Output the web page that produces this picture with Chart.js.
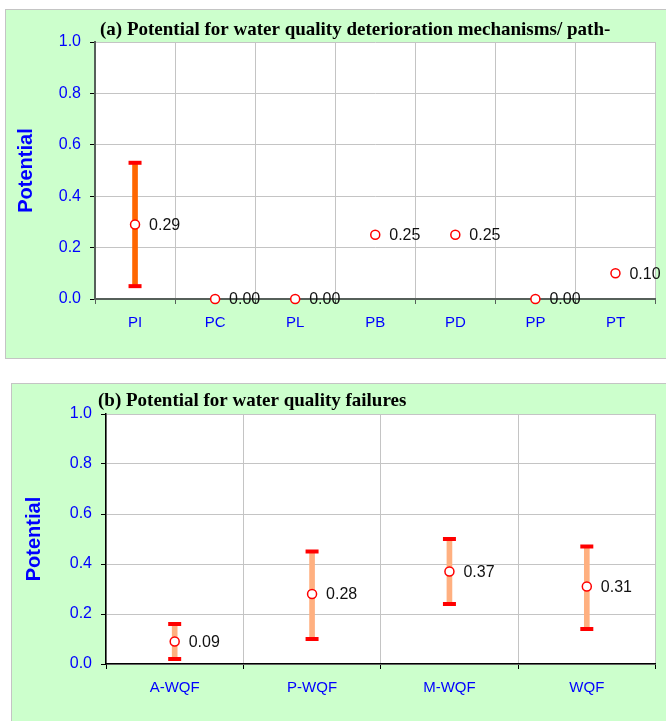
<!DOCTYPE html>
<html>
<head>
<meta charset="utf-8">
<script src="https://cdn.jsdelivr.net/npm/chart.js@4.4.1/dist/chart.umd.min.js"></script>
<style>
body{margin:0;background:#fff;overflow:hidden;width:666px;height:721px;position:relative}
.panel{position:absolute;background:#ccffcc;border:1px solid #c4c4c4}
.box{position:absolute}
</style>
</head>
<body>
<div class="panel" style="left:5px;top:9px;width:680px;height:348px"></div>
<div class="box" style="left:5px;top:9px;width:661px;height:350px"><canvas id="chartA"></canvas></div>
<div class="panel" style="left:11px;top:383px;width:680px;height:360px"></div>
<div class="box" style="left:12px;top:383px;width:654px;height:338px"><canvas id="chartB"></canvas></div>
<script>
// (a) deterioration mechanisms / pathways
var labelsA = ['PI', 'PC', 'PL', 'PB', 'PD', 'PP', 'PT'];
var valuesA = [0.29, 0.00, 0.00, 0.25, 0.25, 0.00, 0.10];
var lowA = [0.05, null, null, null, null, null, null];
var highA = [0.53, null, null, null, null, null, null];

// (b) water quality failures
var labelsB = ['A-WQF', 'P-WQF', 'M-WQF', 'WQF'];
var valuesB = [0.09, 0.28, 0.37, 0.31];
var lowB = [0.02, 0.10, 0.24, 0.14];
var highB = [0.16, 0.45, 0.50, 0.47];

var yTicks = [0, 0.2, 0.4, 0.6, 0.8, 1.0];

var titleA = '(a) Potential for water quality deterioration mechanisms/ path-';
var titleB = '(b) Potential for water quality failures';

var blue = '#0000ff';

function makeChart(id, labels, values, low, high, o) {
    var ranges = low.map(function (l, i) {
        return l === null ? null : [l, high[i]];
    });

    var plotBg = {
        id: 'plotBg',
        beforeDraw: function (chart) {
            var a = chart.chartArea, c = chart.ctx;
            c.save();
            c.fillStyle = '#ffffff';
            c.fillRect(a.left, a.top, a.right - a.left, a.bottom - a.top);
            c.restore();
        }
    };

    var texts = {
        id: 'texts',
        afterDraw: function (chart) {
            var c = chart.ctx, a = chart.chartArea;
            c.save();
            // chart heading
            c.font = 'bold 19px "Liberation Serif", "Times New Roman", serif';
            c.fillStyle = '#000';
            c.textBaseline = 'alphabetic';
            c.textAlign = 'left';
            c.fillText(o.title, a.left + o.titleDx, o.titleY);
            // value labels beside the markers
            var meta = chart.getDatasetMeta(0);
            c.font = '16px "Liberation Sans", Arial, sans-serif';
            c.fillStyle = '#111';
            c.textBaseline = 'middle';
            meta.data.forEach(function (pt, i) {
                c.fillText(values[i].toFixed(2), pt.x + 14, pt.y + 1);
            });
            c.restore();
        }
    };

    return new Chart(document.getElementById(id), {
        type: 'bar',
        data: {
            labels: labels,
            datasets: [
                {
                    type: 'line',
                    data: values,
                    showLine: false,
                    pointStyle: 'circle',
                    pointRadius: 4.5,
                    pointBorderWidth: 1.5,
                    pointBackgroundColor: '#fff',
                    pointBorderColor: '#ff0000',
                    clip: false,
                    order: 0
                },
                {
                    type: 'line',
                    data: high,
                    showLine: false,
                    pointStyle: 'line',
                    pointRadius: 6.5,
                    pointBorderWidth: 4,
                    pointBorderColor: '#ff0000',
                    clip: false,
                    order: 1
                },
                {
                    type: 'line',
                    data: low,
                    showLine: false,
                    pointStyle: 'line',
                    pointRadius: 6.5,
                    pointBorderWidth: 4,
                    pointBorderColor: '#ff0000',
                    clip: false,
                    order: 1
                },
                {
                    data: ranges,
                    backgroundColor: o.barColor,
                    borderWidth: 0,
                    barThickness: 5,
                    order: 2
                }
            ]
        },
        options: {
            responsive: true,
            maintainAspectRatio: false,
            animation: false,
            layout: {padding: {top: o.top, right: o.right, left: 0, bottom: 0}},
            plugins: {
                legend: {display: false},
                tooltip: {enabled: false},
                title: {display: false}
            },
            scales: {
                x: {
                    offset: true,
                    grid: {offset: true, color: '#c4c4c4', tickColor: o.axisColor, tickLength: 5},
                    border: {color: o.axisColor, width: o.axisWidth},
                    ticks: {
                        color: blue,
                        padding: 10,
                        maxRotation: 0,
                        font: {family: '"Liberation Sans", Arial, sans-serif', size: 15}
                    },
                    afterFit: function (s) { s.height = o.xHeight; }
                },
                y: {
                    min: 0,
                    max: 1,
                    afterBuildTicks: function (s) {
                        s.ticks = yTicks.map(function (v) { return {value: v}; });
                    },
                    grid: {color: '#c4c4c4', tickColor: '#000', tickLength: 5},
                    border: {color: o.axisColor, width: o.axisWidth},
                    ticks: {
                        color: blue,
                        padding: 9,
                        font: {family: '"Liberation Sans", Arial, sans-serif', size: 16},
                        callback: function (v) { return Number(v).toFixed(1); }
                    },
                    title: {
                        display: true,
                        text: 'Potential',
                        color: blue,
                        font: {family: '"Liberation Sans", Arial, sans-serif', size: 20, weight: 'bold', lineHeight: o.yTitleLH}
                    },
                    afterFit: function (s) { s.width = o.yWidth; }
                }
            }
        },
        plugins: [plotBg, texts]
    });
}

makeChart('chartA', labelsA, valuesA, lowA, highA, {
    title: titleA, titleDx: 5, titleY: 26,
    top: 33, right: 10, xHeight: 60, yWidth: 90, yTitleLH: 1.7,
    barColor: '#ff6600', axisColor: '#56605a', axisWidth: 2
});

makeChart('chartB', labelsB, valuesB, lowB, highB, {
    title: titleB, titleDx: -8, titleY: 23,
    top: 31, right: 4, xHeight: 57, yWidth: 94, yTitleLH: 1.8,
    barColor: '#ffb080', axisColor: '#000', axisWidth: 1.5
});
</script>
</body>
</html>
